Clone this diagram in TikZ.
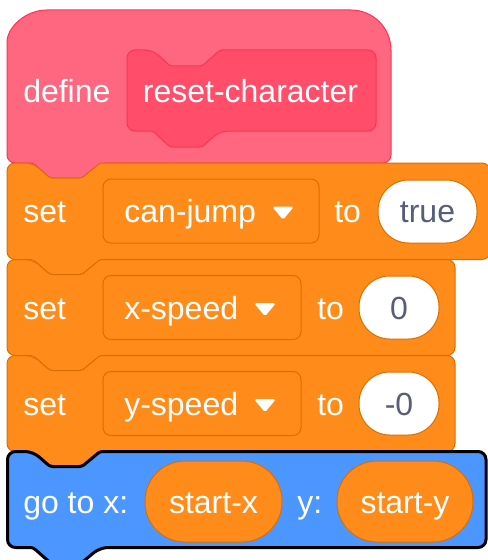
\documentclass[tikz,border=0pt]{standalone}
\usepackage{fontspec}
\setmainfont{Liberation Sans}
\definecolor{pinkF}{HTML}{FF6680}
\definecolor{pinkS}{HTML}{FF3355}
\definecolor{protoF}{HTML}{FF4D6A}
\definecolor{orF}{HTML}{FF8C1A}
\definecolor{orS}{HTML}{DB6E00}
\definecolor{blF}{HTML}{4C97FF}
\definecolor{valT}{HTML}{575E75}
\newcommand{\blkpath}[4]{(#1,{(#2+#4)/2}) [rounded corners=6pt] -- (#1,#2) -- (33,#2) [rounded corners=2pt] -- (50,#2+15) -- (82,#2+15) -- (100,#2) [rounded corners=6pt] -- (#3,#2) -- (#3,#4) -- (100,#4) [rounded corners=2pt] -- (82,#4+15) -- (50,#4+15) -- (33,#4) [rounded corners=6pt] -- (#1,#4) -- cycle}
\tikzset{
  lbl/.style={font=\fontsize{24}{28}\selectfont, text=white, inner sep=0pt, anchor=base west},
  vlbl/.style={font=\fontsize{24}{28}\selectfont, text=valT, inner sep=0pt, anchor=base},
  orblk/.style={fill=orF, draw=orS, line width=0.75pt},
  ddbox/.style={fill=orF, draw=orS, line width=0.75pt, rounded corners=6pt},
  ddtri/.style={fill=white, draw=white, line width=0.75pt, rounded corners=1pt},
  valoval/.style={fill=white, draw=orS, line width=0.75pt, rounded corners=23pt},
  repoval/.style={fill=orF, draw=orS, line width=0.75pt, rounded corners=30pt},
}
\begin{document}
\begin{tikzpicture}[x=0.75pt, y=-0.75pt]
\useasboundingbox (0,0) rectangle (488,560);
% define hat block
\draw[fill=pinkF, draw=pinkS, line width=0.75pt] (7,50) arc[start angle=180, end angle=270, radius=40] -- (351,10) arc[start angle=270, end angle=360, radius=40] [rounded corners=6pt] -- (391,163) -- (100,163) [rounded corners=2pt] -- (82,178) -- (50,178) -- (33,163) [rounded corners=6pt] -- (7,163) -- cycle;
\draw[fill=protoF, draw=pinkS, line width=0.75pt] (127,90) [rounded corners=6pt] -- (127,50) -- (153,50) [rounded corners=2pt] -- (170,66) -- (202,66) -- (220,50) [rounded corners=6pt] -- (376,50) -- (376,131) -- (220,131) [rounded corners=2pt] -- (202,147) -- (170,147) -- (153,131) [rounded corners=6pt] -- (127,131) -- cycle;
\node[lbl] (def) at (23,102.5) {define};
\node[lbl, anchor=base] (proc) at (250.5,102.5) {reset-character};
% block 1
\draw[orblk] \blkpath{7}{163}{490}{259.5};
\draw[ddbox] (103,179) rectangle (319,243);
\draw[ddtri] (273,207) -- (293,207) -- (283,219) -- cycle;
\node[lbl] (set1) at (23,222.5) {set};
\node[lbl] (var1) at (124,222.5) {can-jump};
\node[lbl] (to1) at (334,222.5) {to};
\draw[valoval] (378,180) rectangle (477,243);
\node[vlbl] (val1) at (427.5,222.5) {true};
% block 2
\draw[orblk] \blkpath{7}{259.5}{455}{355.5};
\draw[ddbox] (103,275.5) rectangle (301,339.5);
\draw[ddtri] (255,303.5) -- (275,303.5) -- (265,315.5) -- cycle;
\node[lbl] (set2) at (23,319) {set};
\node[lbl] (var2) at (124,319) {x-speed};
\node[lbl] (to2) at (317,319) {to};
\draw[valoval] (359,276) rectangle (439,339);
\node[vlbl] (val2) at (399,319) {0};
% block 3
\draw[orblk] \blkpath{7}{355.5}{455}{451.5};
\draw[ddbox] (103,371.5) rectangle (301,435.5);
\draw[ddtri] (255,399.5) -- (275,399.5) -- (265,411.5) -- cycle;
\node[lbl] (set3) at (23,415) {set};
\node[lbl] (var3) at (124,415) {y-speed};
\node[lbl] (to3) at (317,415) {to};
\draw[valoval] (359,372) rectangle (439,435);
\node[vlbl] (val3) at (399,415) {-0};
% block 4 (blue, selected)
\draw[fill=blF, draw=black, line width=2.25pt] \blkpath{7.5}{451.5}{486}{547.5};
\draw[repoval] (145,461) rectangle (282,542);
\draw[repoval] (337,461) rectangle (473,542);
\node[lbl] (goto) at (23,513) {go to x:};
\node[lbl, anchor=base] (sx) at (213.5,513) {start-x};
\node[lbl] (ylab) at (297,513) {y:};
\node[lbl, anchor=base] (sy) at (405,513) {start-y};
\end{tikzpicture}
\end{document}
